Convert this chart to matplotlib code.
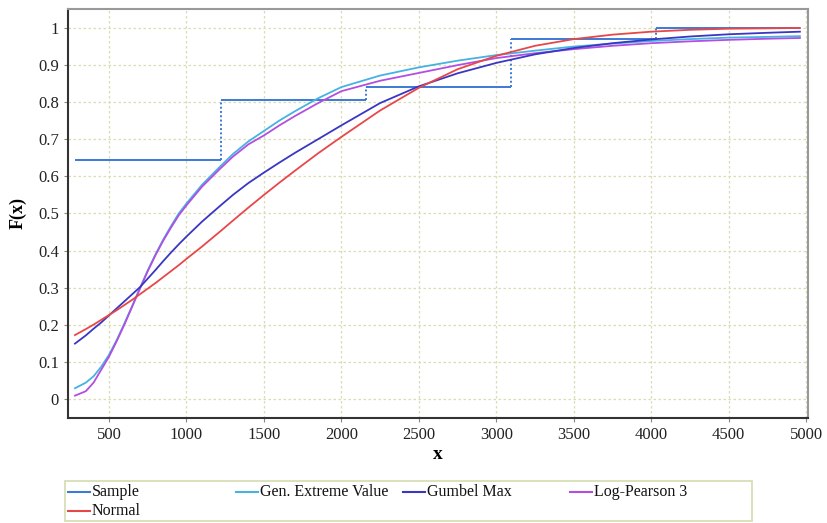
import numpy as np
import matplotlib.pyplot as plt
from matplotlib.lines import Line2D
from matplotlib.patches import Rectangle

plt.rcParams['font.family'] = ['Liberation Serif', 'DejaVu Serif']

# empirical CDF (31 observations)
sample_x = [280, 1221, 2157, 3093, 4031, 4960]
sample_f = [0.645, 0.806, 0.839, 0.968, 1.0]

# x grid the fitted curves were read at
xs = [280, 350, 400, 450, 500, 550, 600, 650, 700, 750, 800, 850, 900, 950,
      1000, 1100, 1221, 1300, 1400, 1500, 1600, 1700, 1850, 2000, 2250, 2500,
      2750, 3000, 3250, 3500, 3750, 4000, 4250, 4500, 4750, 4960]
gev = [0.030, 0.045, 0.062, 0.088, 0.120, 0.160, 0.205, 0.252, 0.300, 0.347,
       0.390, 0.430, 0.466, 0.500, 0.527, 0.577, 0.628, 0.660, 0.694, 0.722,
       0.750, 0.775, 0.810, 0.840, 0.871, 0.893, 0.911, 0.926, 0.938, 0.949,
       0.957, 0.964, 0.969, 0.973, 0.975, 0.977]
lp3 = [0.010, 0.022, 0.045, 0.080, 0.115, 0.157, 0.202, 0.250, 0.298, 0.345,
       0.388, 0.427, 0.462, 0.495, 0.522, 0.572, 0.622, 0.653, 0.686, 0.710,
       0.737, 0.762, 0.797, 0.829, 0.857, 0.878, 0.899, 0.918, 0.931, 0.942,
       0.951, 0.958, 0.963, 0.967, 0.970, 0.972]
gumbel = [0.150, 0.172, 0.190, 0.207, 0.226, 0.245, 0.264, 0.283, 0.302, 0.325,
          0.348, 0.372, 0.395, 0.417, 0.438, 0.478, 0.522, 0.550, 0.582, 0.610,
          0.637, 0.663, 0.700, 0.737, 0.797, 0.842, 0.877, 0.905, 0.928, 0.945,
          0.958, 0.968, 0.976, 0.982, 0.986, 0.989]
normal = [0.173, 0.189, 0.201, 0.214, 0.227, 0.240, 0.254, 0.268, 0.283, 0.298,
          0.313, 0.329, 0.345, 0.361, 0.378, 0.411, 0.453, 0.481, 0.516, 0.550,
          0.583, 0.615, 0.662, 0.706, 0.777, 0.838, 0.888, 0.924, 0.951, 0.969,
          0.981, 0.989, 0.994, 0.997, 0.998, 0.999]

labels = ['Sample', 'Gen. Extreme Value', 'Gumbel Max', 'Log-Pearson 3', 'Normal']
colors = {'Sample': '#3c7ad6', 'Gen. Extreme Value': '#46b2e2',
          'Gumbel Max': '#3a36c4', 'Log-Pearson 3': '#b24ee0', 'Normal': '#e8474a'}

fig = plt.figure(figsize=(8.27, 5.23), dpi=100)
ax = fig.add_axes([0.0822, 0.2008, 0.977 - 0.0822, 0.9828 - 0.2008])

# sample step: solid treads, dotted risers
ax.hlines(sample_f, sample_x[:-1], sample_x[1:], color=colors['Sample'], lw=1.4, zorder=3)
ax.vlines(sample_x[1:-1], sample_f[:-1], sample_f[1:], color=colors['Sample'],
          lw=1.4, linestyles=(0, (1, 1.2)), zorder=3)

ax.plot(xs, gev, color=colors['Gen. Extreme Value'], lw=1.3, zorder=3)
ax.plot(xs, lp3, color=colors['Log-Pearson 3'], lw=1.3, zorder=3)
ax.plot(xs, gumbel, color=colors['Gumbel Max'], lw=1.3, zorder=3)
ax.plot(xs, normal, color=colors['Normal'], lw=1.3, zorder=3)

ax.set_xlim(235, 5012)
ax.set_ylim(-0.05, 1.05)
ax.set_xticks(np.arange(500, 5001, 500))
ax.set_yticks(np.arange(0, 1.01, 0.1))
ax.set_yticklabels(['0', '0.1', '0.2', '0.3', '0.4', '0.5', '0.6', '0.7', '0.8', '0.9', '1'])
ax.tick_params(labelsize=12, length=3, color='#888888', colors='#222222')
ax.grid(True, color='#dcdcb4', linestyle=(0, (2, 2)), lw=0.9)

for s in ['left', 'bottom']:
    ax.spines[s].set_color('#333333')
    ax.spines[s].set_linewidth(1.5)
for s in ['top', 'right']:
    ax.spines[s].set_color('#999999')
    ax.spines[s].set_linewidth(1.5)

ax.set_xlabel('x', fontsize=14, fontweight='bold', labelpad=2)
ax.set_ylabel('F(x)', fontsize=13, fontweight='bold', labelpad=8)

# legend box drawn under the plot, equal-width columns like the original
fig.patches.append(Rectangle((65 / 827, 1 - 521 / 523), 687 / 827, 40 / 523,
                             transform=fig.transFigure, fill=False,
                             edgecolor='#d4dab0', lw=1.2))
col_x = [68, 236, 403, 570]
row_y = [492, 511]
slots = [(0, 0), (1, 0), (2, 0), (3, 0), (0, 1)]
for lab, (c, r) in zip(labels, slots):
    x0 = col_x[c] / 827
    y0 = 1 - row_y[r] / 523
    fig.lines.append(Line2D([x0, x0 + 22 / 827], [y0, y0], transform=fig.transFigure,
                            color=colors[lab], lw=1.5))
    fig.text(x0 + 24 / 827, y0, lab, fontsize=11.5, va='center', ha='left', color='#111111')

fig.savefig('out.png', dpi=100)
